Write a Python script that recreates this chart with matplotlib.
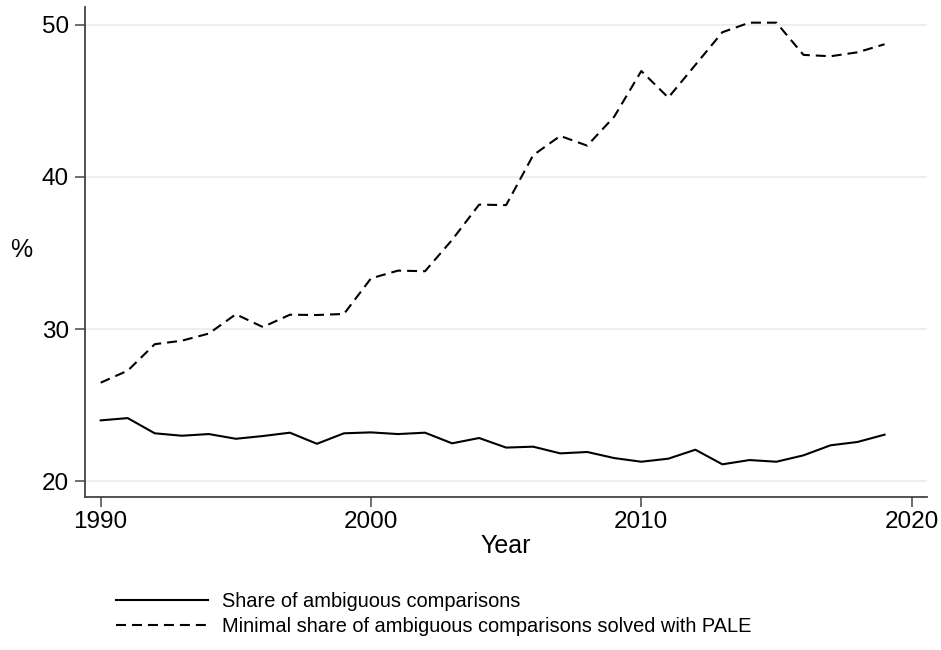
import numpy as np
import matplotlib
matplotlib.use('Agg')
import matplotlib.pyplot as plt

plt.rcParams['font.family'] = ['Liberation Sans', 'DejaVu Sans']
plt.rcParams['lines.scale_dashes'] = False

years = list(range(1990, 2020))

share_ambiguous = [
    23.99, 24.14, 23.14, 22.98, 23.09, 22.78, 22.96, 23.18, 22.45, 23.14,
    23.20, 23.09, 23.18, 22.48, 22.83, 22.20, 22.26, 21.82, 21.91, 21.51,
    21.27, 21.47, 22.06, 21.10, 21.38, 21.27, 21.69, 22.35, 22.57, 23.05,
]

share_solved_pale = [
    26.47, 27.26, 29.00, 29.23, 29.70, 30.97, 30.13, 30.94, 30.92, 30.99,
    33.33, 33.84, 33.80, 35.86, 38.18, 38.15, 41.43, 42.70, 42.06, 43.97,
    46.97, 45.22, 47.37, 49.52, 50.15, 50.15, 48.03, 47.94, 48.20, 48.73,
]

labels = [
    'Share of ambiguous comparisons',
    'Minimal share of ambiguous comparisons solved with PALE',
]

x_ticks = [1990, 2000, 2010, 2020]
y_ticks = [20, 30, 40, 50]

fig = plt.figure(figsize=(9.41, 6.5), dpi=100)
ax = fig.add_axes([85 / 941, 1 - 497 / 650, (927 - 85) / 941, (497 - 7) / 650])

ax.plot(years, share_ambiguous, color='black', lw=1.5, label=labels[0])
ax.plot(years, share_solved_pale, color='black', lw=1.5, dashes=(7.2, 4.3),
        label=labels[1])

ax.set_xlim(1989.42, 2020.57)
ax.set_ylim(18.95, 51.18)
ax.set_xticks(x_ticks)
ax.set_yticks(y_ticks)
ax.grid(axis='y', color='#eaeaea', lw=1.1)
ax.set_axisbelow(True)

for side in ['top', 'right']:
    ax.spines[side].set_visible(False)
for side in ['left', 'bottom']:
    ax.spines[side].set_color('#444444')
    ax.spines[side].set_linewidth(1.3)

ax.tick_params(axis='both', direction='out', length=7, width=1.1,
               color='#444444', labelsize=17.5)
ax.tick_params(axis='y', pad=4.5)
ax.tick_params(axis='x', pad=3)

ax.set_xlabel('Year', fontsize=18, labelpad=1)
ax.set_ylabel('%', fontsize=18, rotation=0, labelpad=0)
ax.yaxis.set_label_coords(-64 / 842, 0.48)

handles, lbls = ax.get_legend_handles_labels()
fig.legend(handles, lbls, loc='upper left', bbox_to_anchor=(108 / 941, 1 - 584 / 650),
           frameon=False, fontsize=14.4, handlelength=4.6, handletextpad=0.72,
           labelspacing=0.28, borderaxespad=0)

fig.savefig('out.png', dpi=100)
